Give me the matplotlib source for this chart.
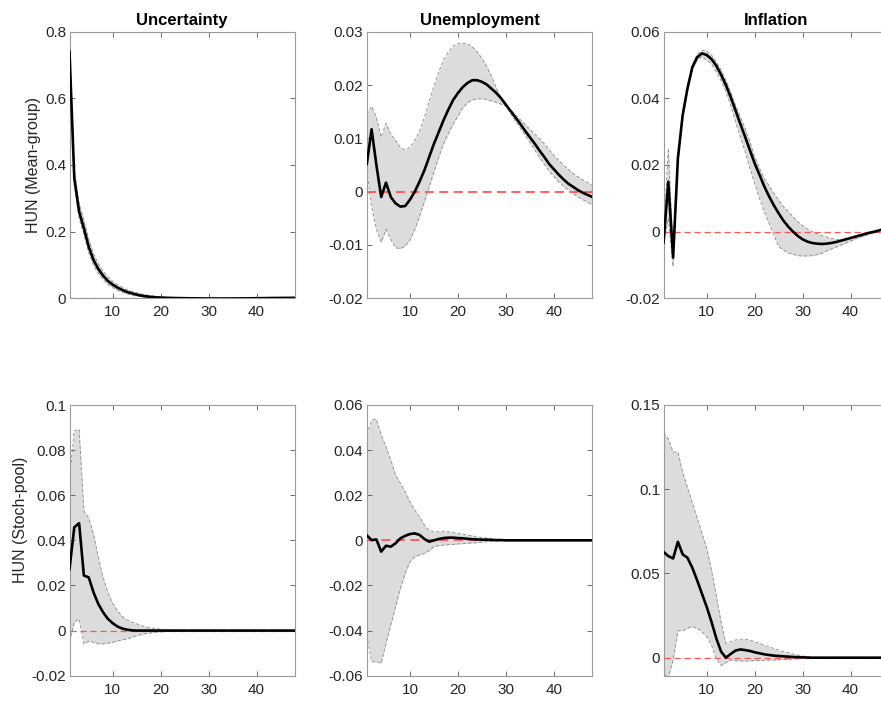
import numpy as np
import matplotlib
matplotlib.use("Agg")
import matplotlib.pyplot as plt

plt.rcParams['font.family'] = ['Liberation Sans', 'DejaVu Sans']

# horizons
h = np.arange(1, 49)

titles = ["Uncertainty", "Unemployment", "Inflation"]
row_labels = ["HUN (Mean-group)", "HUN (Stoch-pool)"]

# --- mean-group row ---
unc_mg = [0.74, 0.36, 0.26, 0.21, 0.155, 0.115, 0.088, 0.068, 0.052, 0.041, 0.032, 0.025,
          0.019, 0.015, 0.011, 0.008, 0.006, 0.004, 0.003, 0.002, 0.0015, 0.001, 0.0008, 0.0005,
          0.0003, 0.0, 0.0, -0.0003, -0.0005, -0.0006, -0.0007, -0.0007, -0.0007, -0.0006, -0.0005, -0.0004,
          -0.0003, -0.0002, 0.0, 0.0002, 0.0004, 0.0006, 0.0008, 0.001, 0.0011, 0.0012, 0.0013, 0.0014]
unc_mg_hi = [0.745, 0.385, 0.285, 0.235, 0.178, 0.134, 0.104, 0.081, 0.064, 0.051, 0.041, 0.033,
             0.026, 0.021, 0.017, 0.013, 0.010, 0.008, 0.0065, 0.005, 0.004, 0.0033, 0.0027, 0.0022,
             0.0018, 0.0015, 0.0012, 0.001, 0.0008, 0.0007, 0.0006, 0.0006, 0.0006, 0.0007, 0.0008, 0.0009,
             0.001, 0.0011, 0.0012, 0.0014, 0.0015, 0.0017, 0.0018, 0.002, 0.0021, 0.0022, 0.0023, 0.0024]
unc_mg_lo = [0.735, 0.34, 0.24, 0.19, 0.137, 0.099, 0.074, 0.056, 0.042, 0.032, 0.024, 0.018,
             0.013, 0.0095, 0.0065, 0.0045, 0.003, 0.0018, 0.001, 0.0003, -0.0002, -0.0006, -0.0009, -0.0012,
             -0.0014, -0.0016, -0.0018, -0.0019, -0.002, -0.002, -0.002, -0.002, -0.002, -0.0019, -0.0018, -0.0017,
             -0.0016, -0.0015, -0.0013, -0.0011, -0.0009, -0.0007, -0.0005, -0.0003, -0.0002, 0.0, 0.0002, 0.0004]

une_mg = [0.0052, 0.0117, 0.005, -0.001, 0.0017, -0.001, -0.0022, -0.0028, -0.0027, -0.0015, 0.0, 0.0019,
          0.004, 0.0065, 0.009, 0.0112, 0.0134, 0.0154, 0.0172, 0.0185, 0.0196, 0.0204, 0.0209, 0.0209,
          0.0206, 0.0201, 0.0193, 0.0185, 0.0175, 0.0163, 0.0151, 0.0139, 0.0127, 0.0114, 0.0102, 0.009,
          0.0077, 0.0065, 0.0052, 0.0042, 0.0032, 0.0023, 0.0015, 0.0009, 0.0003, -0.0002, -0.0006, -0.001]
une_mg_hi = [0.0145, 0.016, 0.0139, 0.0102, 0.0128, 0.0108, 0.0096, 0.0083, 0.0078, 0.0083, 0.0096, 0.0114,
             0.0139, 0.017, 0.0198, 0.0225, 0.0247, 0.0262, 0.0273, 0.0278, 0.0279, 0.0277, 0.0272, 0.0262,
             0.025, 0.0235, 0.0216, 0.0194, 0.0176, 0.0162, 0.0153, 0.0144, 0.0135, 0.0126, 0.0117, 0.0108,
             0.0099, 0.009, 0.0079, 0.0068, 0.0059, 0.005, 0.0042, 0.0034, 0.0028, 0.0022, 0.0017, 0.0012]
une_mg_lo = [0.004, -0.0028, -0.0071, -0.0095, -0.0071, -0.009, -0.0105, -0.0107, -0.0102, -0.009, -0.0071, -0.0046,
             -0.0019, 0.0009, 0.0037, 0.0065, 0.009, 0.0109, 0.0127, 0.0142, 0.0157, 0.0167, 0.0172, 0.0174,
             0.0174, 0.0173, 0.017, 0.0167, 0.0164, 0.016, 0.0146, 0.0132, 0.0119, 0.0106, 0.0092, 0.0078,
             0.0064, 0.0051, 0.0039, 0.0028, 0.0018, 0.001, 0.0003, -0.0004, -0.001, -0.0015, -0.002, -0.0025]

inf_mg = [-0.0033, 0.015, -0.0078, 0.022, 0.035, 0.043, 0.0493, 0.0523, 0.0535, 0.053, 0.0518, 0.0498,
          0.0471, 0.044, 0.0404, 0.0364, 0.0324, 0.0285, 0.0245, 0.0205, 0.0171, 0.0136, 0.0106, 0.0079,
          0.0055, 0.0033, 0.0015, 0.0, -0.0013, -0.0023, -0.003, -0.0034, -0.0036, -0.0037, -0.0036, -0.0034,
          -0.0031, -0.0027, -0.0023, -0.0019, -0.0015, -0.0011, -0.0007, -0.0003, 0.0, 0.0004, 0.0008, 0.0012]
inf_mg_hi = [-0.0025, 0.025, -0.006, 0.0225, 0.0355, 0.0437, 0.05, 0.0532, 0.0545, 0.0542, 0.053, 0.051,
             0.0485, 0.0455, 0.042, 0.038, 0.0345, 0.031, 0.027, 0.0225, 0.019, 0.016, 0.0138, 0.0115,
             0.0095, 0.0075, 0.006, 0.0045, 0.003, 0.0018, 0.0008, 0.0, -0.0006, -0.0012, -0.0016, -0.002,
             -0.0023, -0.0025, -0.0023, -0.002, -0.0016, -0.0012, -0.0008, -0.0004, 0.0, 0.0004, 0.0008, 0.0012]
inf_mg_lo = [-0.004, 0.004, -0.0105, 0.0215, 0.0345, 0.0423, 0.0486, 0.0515, 0.0525, 0.0515, 0.0503, 0.048,
             0.0453, 0.042, 0.0378, 0.033, 0.0285, 0.024, 0.019, 0.0145, 0.010, 0.006, 0.0025, -0.001,
             -0.0045, -0.0055, -0.0065, -0.0068, -0.0072, -0.0073, -0.0073, -0.0072, -0.0069, -0.0065, -0.0058, -0.0052,
             -0.0046, -0.004, -0.0034, -0.0028, -0.0022, -0.0017, -0.0012, -0.0007, -0.0003, 0.0002, 0.0006, 0.001]

# --- stochastic-pool row ---
unc_sp = [0.0273, 0.0458, 0.0476, 0.0244, 0.0236, 0.017, 0.0118, 0.0081, 0.0052, 0.0033, 0.0018, 0.0009,
          0.0004, 0.0001] + [0.0] * 34
unc_sp_hi = [0.067, 0.0886, 0.0893, 0.053, 0.05, 0.0428, 0.0325, 0.0236, 0.017, 0.0121, 0.0089, 0.0062,
             0.0047, 0.0037, 0.003, 0.0022, 0.0016, 0.0012, 0.0009, 0.0006, 0.0004, 0.0003, 0.0001] + [0.0] * 25
unc_sp_lo = [-0.005, 0.0037, 0.0052, -0.0059, -0.0047, -0.0052, -0.0059, -0.0059, -0.0056, -0.0052, -0.0047, -0.0041,
             -0.0037, -0.003, -0.0022, -0.0018, -0.0013, -0.001, -0.0007, -0.0006, -0.0004, -0.0003, -0.0001] + [0.0] * 25

une_sp = [0.0022, 0.0001, 0.0004, -0.005, -0.0024, -0.0028, -0.0013, 0.0009, 0.002, 0.0028, 0.0031, 0.0024,
          0.0006, -0.0006, 0.0, 0.0006, 0.001, 0.0012, 0.0012, 0.001, 0.0009, 0.0007, 0.0005, 0.0004,
          0.0003, 0.0003, 0.0002, 0.0001, 0.0001] + [0.0] * 19
une_sp_hi = [0.0467, 0.0534, 0.0536, 0.0467, 0.0415, 0.0356, 0.029, 0.0253, 0.0216, 0.0171, 0.0134, 0.0105,
             0.0068, 0.0043, 0.0038, 0.0038, 0.0041, 0.0038, 0.0035, 0.0031, 0.0028, 0.0024, 0.002, 0.0016,
             0.0013, 0.001, 0.0007, 0.0004, 0.0002] + [0.0] * 19
une_sp_lo = [-0.042, -0.0538, -0.0538, -0.0545, -0.0456, -0.0375, -0.0294, -0.0213, -0.0146, -0.0095, -0.0072, -0.0065,
             -0.0058, -0.0046, -0.0028, -0.0024, -0.0021, -0.0019, -0.0018, -0.0016, -0.0015, -0.0013, -0.0012, -0.001,
             -0.0008, -0.0006, -0.0004, -0.0003, -0.0001] + [0.0] * 19

inf_sp = [0.0628, 0.0603, 0.0589, 0.0688, 0.0613, 0.0593, 0.0534, 0.046, 0.0381, 0.0302, 0.0213, 0.0115,
          0.0036, 0.0, 0.0022, 0.0042, 0.0049, 0.0045, 0.004, 0.0032, 0.0026, 0.002, 0.0016, 0.0012,
          0.001, 0.0008, 0.0006, 0.0004, 0.0003, 0.0002, 0.0001] + [0.0] * 17
inf_sp_hi = [0.1334, 0.13, 0.1221, 0.1221, 0.11, 0.101, 0.092, 0.083, 0.074, 0.065, 0.052, 0.037,
             0.021, 0.0085, 0.0095, 0.0105, 0.011, 0.011, 0.0105, 0.0095, 0.0085, 0.0075, 0.0065, 0.0055,
             0.0045, 0.0036, 0.0029, 0.0022, 0.0016, 0.001, 0.0005] + [0.0] * 17
inf_sp_lo = [-0.0093, -0.012, -0.0014, 0.016, 0.016, 0.0174, 0.0184, 0.0174, 0.0154, 0.0125, 0.0075, -0.0004,
             -0.0047, -0.003, -0.0014, -0.0018, -0.002, -0.002, -0.0019, -0.0018, -0.0017, -0.0016, -0.0015, -0.0014,
             -0.0013, -0.0012, -0.001, -0.0008, -0.0006, -0.0004, -0.0002] + [0.0] * 17

panels = [
    [(unc_mg, unc_mg_lo, unc_mg_hi), (une_mg, une_mg_lo, une_mg_hi), (inf_mg, inf_mg_lo, inf_mg_hi)],
    [(unc_sp, unc_sp_lo, unc_sp_hi), (une_sp, une_sp_lo, une_sp_hi), (inf_sp, inf_sp_lo, inf_sp_hi)],
]
ylims = [[(0, 0.8), (-0.02, 0.03), (-0.02, 0.06)],
         [(-0.02, 0.1), (-0.06, 0.06), (-0.0107, 0.15)]]
yticks = [[np.arange(0, 0.81, 0.2), np.arange(-0.02, 0.031, 0.01), np.arange(-0.02, 0.061, 0.02)],
          [np.arange(-0.02, 0.101, 0.02), np.arange(-0.06, 0.061, 0.02), np.arange(0, 0.151, 0.05)]]
yticklabels = [[["0", "0.2", "0.4", "0.6", "0.8"], ["-0.02", "-0.01", "0", "0.01", "0.02", "0.03"],
                ["-0.02", "0", "0.02", "0.04", "0.06"]],
               [["-0.02", "0", "0.02", "0.04", "0.06", "0.08", "0.1"],
                ["-0.06", "-0.04", "-0.02", "0", "0.02", "0.04", "0.06"],
                ["0", "0.05", "0.1", "0.15"]]]

W, H = 881, 701
fig = plt.figure(figsize=(W / 100, H / 100), dpi=100)

lefts = [69.5, 366.8, 663.5]
width = 225.5
rows = [(298.3, 266.6), (675.7, 270.7)]  # bottom pixel, height
label_x = [-0.127, -0.184]
label_y = [0.5, 0.575]

for r in range(2):
    for c in range(3):
        bot, ht = rows[r]
        ax = fig.add_axes([lefts[c] / W, (H - bot) / H, width / W, ht / H])
        mean, lo, hi = panels[r][c]
        ax.fill_between(h, lo, hi, color='#dcdcdc', lw=0, zorder=1)
        ax.plot(h, hi, color='#8a8a8a', lw=0.6, ls=(0, (4, 2.5)), zorder=2)
        ax.plot(h, lo, color='#8a8a8a', lw=0.6, ls=(0, (4, 2.5)), zorder=2)
        zlw = 1.3 if c == 1 else 0.9
        ax.axhline(0, color='#ff5555', lw=zlw, ls=(0, (5, 3)), zorder=3)
        ax.plot(h, mean, color='black', lw=1.9, zorder=4)

        ax.set_xlim(1, 48)
        ax.set_ylim(*ylims[r][c])
        ax.set_xticks([10, 20, 30, 40])
        ax.set_yticks(yticks[r][c])
        ax.set_yticklabels(yticklabels[r][c])
        ax.tick_params(direction='in', top=True, right=True, length=3.5, width=0.6,
                       color='#555555', labelsize=11, labelcolor='#262626')
        ax.tick_params(axis='y', pad=2.5)
        ax.tick_params(axis='x', pad=5)
        for sp in ax.spines.values():
            sp.set_color('#9a9a9a')
            sp.set_linewidth(0.8)
        if r == 0:
            ax.set_title(titles[c], fontsize=12, fontweight='bold', color='black', pad=5)
        if c == 0:
            ax.set_ylabel(row_labels[r], fontsize=11.5, color='#262626')
            ax.yaxis.set_label_coords(label_x[r], label_y[r])

fig.savefig("out.png", dpi=100)
